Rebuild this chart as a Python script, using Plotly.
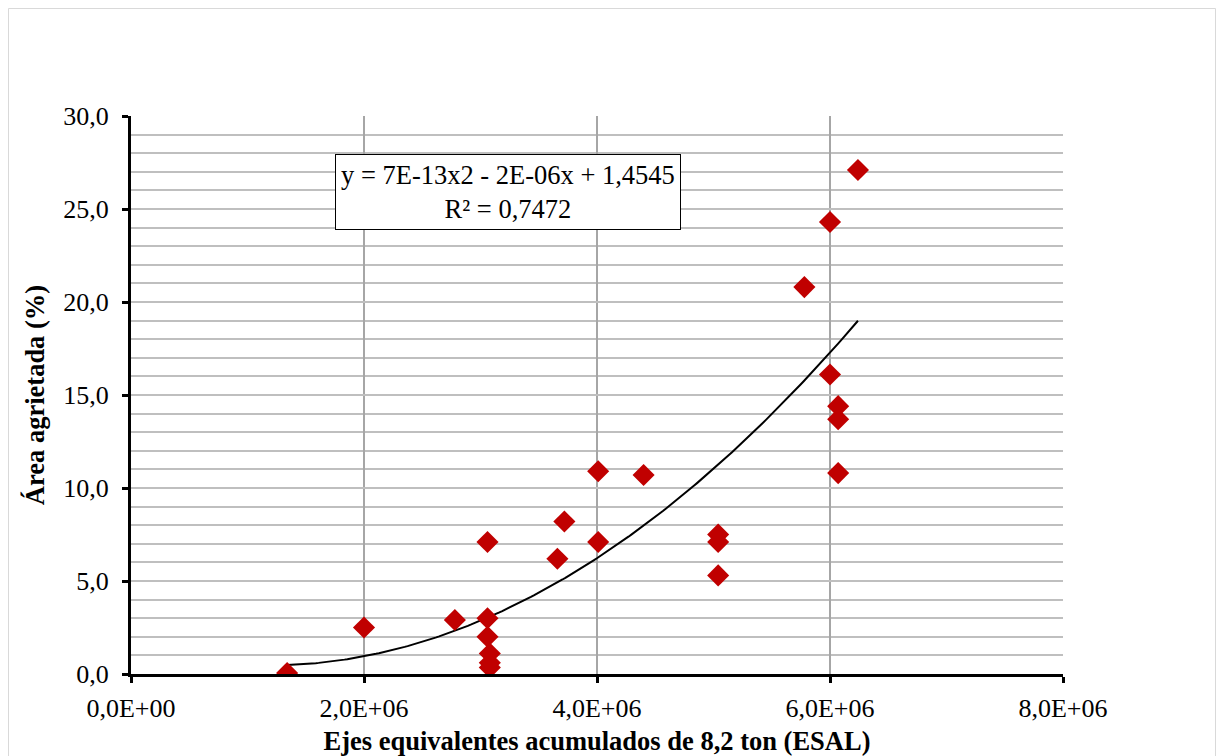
import numpy as np
import plotly.graph_objects as go

# ---- data ----
esal = [1.34e6, 2.00e6, 2.78e6, 3.06e6, 3.06e6, 3.06e6, 3.08e6, 3.08e6, 3.08e6,
        3.66e6, 3.72e6, 4.01e6, 4.01e6, 4.40e6, 5.04e6, 5.04e6, 5.04e6,
        5.78e6, 6.00e6, 6.24e6, 6.00e6, 6.07e6, 6.07e6, 6.07e6]
area = [0.05, 2.5, 2.9, 7.1, 3.0, 2.0, 1.1, 0.6, 0.35,
        6.2, 8.2, 7.1, 10.9, 10.7, 7.5, 7.1, 5.3,
        20.8, 24.3, 27.1, 16.1, 14.4, 13.7, 10.8]

# polynomial trend line (order 2) coefficients, estimated from the drawn curve
# (label shows the rounded values 7E-13, -2E-06, 1,4545)
trend_coef = [7.22e-13, -1.695e-6, 1.4545]

x_tickvals = [0, 2e6, 4e6, 6e6, 8e6]
x_ticktext = ["0,0E+00", "2,0E+06", "4,0E+06", "6,0E+06", "8,0E+06"]
y_tickvals = [0, 5, 10, 15, 20, 25, 30]
y_ticktext = ["0,0", "5,0", "10,0", "15,0", "20,0", "25,0", "30,0"]

eq_text = "y = 7E-13x2 - 2E-06x + 1,4545<br>R² = 0,7472"
x_title = "<b>Ejes equivalentes acumulados de 8,2 ton (ESAL)</b>"
y_title = "<b>Área agrietada (%)</b>"

xt = np.linspace(min(esal), max(esal), 200)
yt = np.polyval(trend_coef, xt)

FONT = "Liberation Serif, Times New Roman, serif"

W, H = 1208, 748
L, R, T, B = 123, 153, 108, 82
PW, PH = W - L - R, H - T - B

fig = go.Figure()
fig.add_trace(go.Scatter(x=xt, y=yt, mode="lines",
                         line=dict(color="black", width=2),
                         hoverinfo="skip", showlegend=False))
fig.add_trace(go.Scatter(x=esal, y=area, mode="markers",
                         marker=dict(symbol="diamond", size=17, color="#C00000",
                                     line=dict(width=0)),
                         showlegend=False))

bx0 = (0.5 - L) / PW
bx1 = (W - 0.5 - L) / PW
by1 = 1 + (T - 0.5) / PH
by0 = -(B + 5) / PH
border_path = f"M {bx0},{by0} L {bx0},{by1} L {bx1},{by1} L {bx1},{by0}"

fig.update_layout(
    width=W, height=H,
    margin=dict(l=L, r=R, t=T, b=B),
    paper_bgcolor="white", plot_bgcolor="white",
    font=dict(family=FONT, size=26, color="black"),
    showlegend=False,
    xaxis=dict(range=[0, 8e6], tickvals=x_tickvals, ticktext=x_ticktext,
               automargin=False,
               showgrid=True, gridcolor="#A6A6A6", gridwidth=2,
               showline=True, linecolor="black", linewidth=3,
               ticks="outside", ticklen=6, tickwidth=3, tickcolor="black",
               ticklabelstandoff=3,
               zeroline=False,
               title=dict(text=x_title, font=dict(size=26.5), standoff=11)),
    yaxis=dict(range=[0, 30], tickvals=y_tickvals, ticktext=y_ticktext,
               automargin=False,
               showgrid=True, gridcolor="#BFBFBF", gridwidth=2,
               minor=dict(dtick=1, showgrid=True, gridcolor="#BFBFBF", gridwidth=2,
                          ticks=""),
               showline=True, linecolor="black", linewidth=3,
               ticks="outside", ticklen=6, tickwidth=3, tickcolor="black",
               ticklabelstandoff=8,
               zeroline=False,
               title=dict(text=y_title, font=dict(size=26.5), standoff=12)),
    annotations=[dict(x=3.236e6, y=25.9, xref="x", yref="y", text=eq_text,
                      showarrow=False, align="center",
                      font=dict(family=FONT, size=26.5, color="black"),
                      bgcolor="white", bordercolor="black", borderwidth=1,
                      borderpad=5)],
    shapes=[dict(type="path", xref="paper", yref="paper", path=border_path,
                 line=dict(color="#D9D9D9", width=1), layer="below")],
)

fig.write_html("out.html")
